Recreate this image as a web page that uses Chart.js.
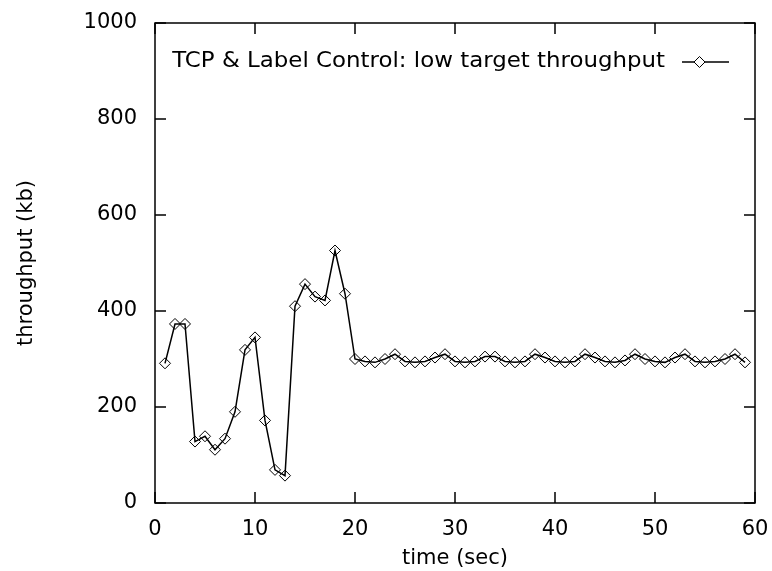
<!DOCTYPE html>
<html>
<head>
<meta charset="utf-8">
<script src="https://cdn.jsdelivr.net/npm/chart.js@4.4.1/dist/chart.umd.min.js"></script>
<style>
  html, body { margin: 0; padding: 0; background: #fff; }
  #wrap { width: 772px; height: 571px; }
</style>
</head>
<body>
<div id="wrap"><canvas id="tcpChart" width="772" height="571"></canvas></div>
<script>
const seriesLabel = 'TCP & Label Control: low target throughput';
const times = [1, 2, 3, 4, 5, 6, 7, 8, 9, 10, 11, 12, 13, 14, 15, 16, 17, 18, 19, 20,
  21, 22, 23, 24, 25, 26, 27, 28, 29, 30, 31, 32, 33, 34, 35, 36, 37, 38, 39, 40,
  41, 42, 43, 44, 45, 46, 47, 48, 49, 50, 51, 52, 53, 54, 55, 56, 57, 58, 59];
const throughput = [291, 373, 373, 128, 139, 111, 134, 190, 319, 345, 172, 69, 57, 410, 456, 430, 422, 526, 436, 300,
  295, 293, 300, 310, 295, 293, 295, 303, 310, 295, 293, 295, 305, 305, 295, 293, 295, 310, 303, 295,
  293, 295, 310, 303, 295, 293, 297, 310, 300, 295, 293, 303, 310, 295, 293, 295, 300, 310, 293];
const xTicks = [0, 10, 20, 30, 40, 50, 60];
const yTicks = [0, 200, 400, 600, 800, 1000];

const FONT = "'DejaVu Sans', sans-serif";

// gnuplot style frame with inward ticks on all four sides
const framePlugin = {
  id: 'frame',
  afterDatasetsDraw(chart) {
    const { ctx, chartArea: a, scales } = chart;
    const tick = 11;
    ctx.save();
    ctx.strokeStyle = '#000';
    ctx.lineWidth = 1.5;
    ctx.strokeRect(a.left, a.top, a.right - a.left, a.bottom - a.top);
    ctx.beginPath();
    xTicks.forEach(v => {
      const x = scales.x.getPixelForValue(v);
      ctx.moveTo(x, a.bottom); ctx.lineTo(x, a.bottom - tick);
      ctx.moveTo(x, a.top); ctx.lineTo(x, a.top + tick);
    });
    yTicks.forEach(v => {
      const y = scales.y.getPixelForValue(v);
      ctx.moveTo(a.left, y); ctx.lineTo(a.left + tick, y);
      ctx.moveTo(a.right, y); ctx.lineTo(a.right - tick, y);
    });
    ctx.stroke();

    // key in the top right corner (text a bit wider, like the original)
    const ky = a.top + 39;
    const lx1 = a.right - 73, lx2 = a.right - 26;
    ctx.fillStyle = '#000';
    ctx.font = '21px ' + FONT;
    ctx.textAlign = 'right';
    ctx.textBaseline = 'middle';
    const textRight = lx1 - 17;
    ctx.save();
    ctx.translate(textRight, ky);
    ctx.scale(1.09, 1);
    ctx.fillText(chart.data.datasets[0].label, 0, 0);
    ctx.restore();
    ctx.lineWidth = 1.5;
    ctx.beginPath();
    ctx.moveTo(lx1, ky); ctx.lineTo(lx2, ky);
    ctx.stroke();
    const mx = (lx1 + lx2) / 2 - 6, r = 5.5;
    ctx.lineWidth = 1;
    ctx.beginPath();
    ctx.moveTo(mx, ky - r); ctx.lineTo(mx + r, ky); ctx.lineTo(mx, ky + r); ctx.lineTo(mx - r, ky);
    ctx.closePath();
    ctx.fillStyle = '#fff';
    ctx.fill();
    ctx.stroke();
    ctx.restore();
  }
};

const ctx = document.getElementById('tcpChart').getContext('2d');
const chart = new Chart(ctx, {
  type: 'line',
  data: {
    datasets: [{
      label: seriesLabel,
      data: times.map((t, i) => ({ x: t, y: throughput[i] })),
      borderColor: '#000',
      borderWidth: 1.5,
      tension: 0,
      fill: false,
      pointStyle: 'rectRot',
      pointRadius: 5.5,
      pointBorderWidth: 1,
      pointBorderColor: '#000',
      pointBackgroundColor: 'rgba(255,255,255,0)'
    }]
  },
  options: {
    responsive: false,
    animation: false,
    layout: { padding: { top: 23, right: 17, left: 0, bottom: 0 } },
    plugins: {
      legend: { display: false },
      tooltip: { enabled: false }
    },
    scales: {
      x: {
        type: 'linear',
        min: 0,
        max: 60,
        afterBuildTicks: axis => { axis.ticks = xTicks.map(v => ({ value: v })); },
        afterFit: axis => { axis.height = 68; axis.paddingLeft = 0; axis.paddingRight = 0; },
        grid: { display: false, drawTicks: false },
        border: { display: false },
        ticks: { color: '#000', font: { family: FONT, size: 21 }, padding: 14, maxRotation: 0, callback: v => String(v) },
        title: {
          display: true, text: 'time (sec)', color: '#000',
          font: { family: FONT, size: 21 }, padding: { top: 0, bottom: 0 }
        }
      },
      y: {
        min: 0,
        max: 1000,
        afterBuildTicks: axis => { axis.ticks = yTicks.map(v => ({ value: v })); },
        afterFit: axis => { axis.width = 155; axis.paddingTop = 0; axis.paddingBottom = 0; },
        grid: { display: false, drawTicks: false },
        border: { display: false },
        ticks: { color: '#000', font: { family: FONT, size: 21 }, padding: 18, callback: v => String(v) },
        title: {
          display: true, text: 'throughput (kb)', color: '#000',
          font: { family: FONT, size: 21 }, padding: { top: 14, bottom: 14 }
        }
      }
    }
  },
  plugins: [framePlugin]
});
</script>
</body>
</html>
